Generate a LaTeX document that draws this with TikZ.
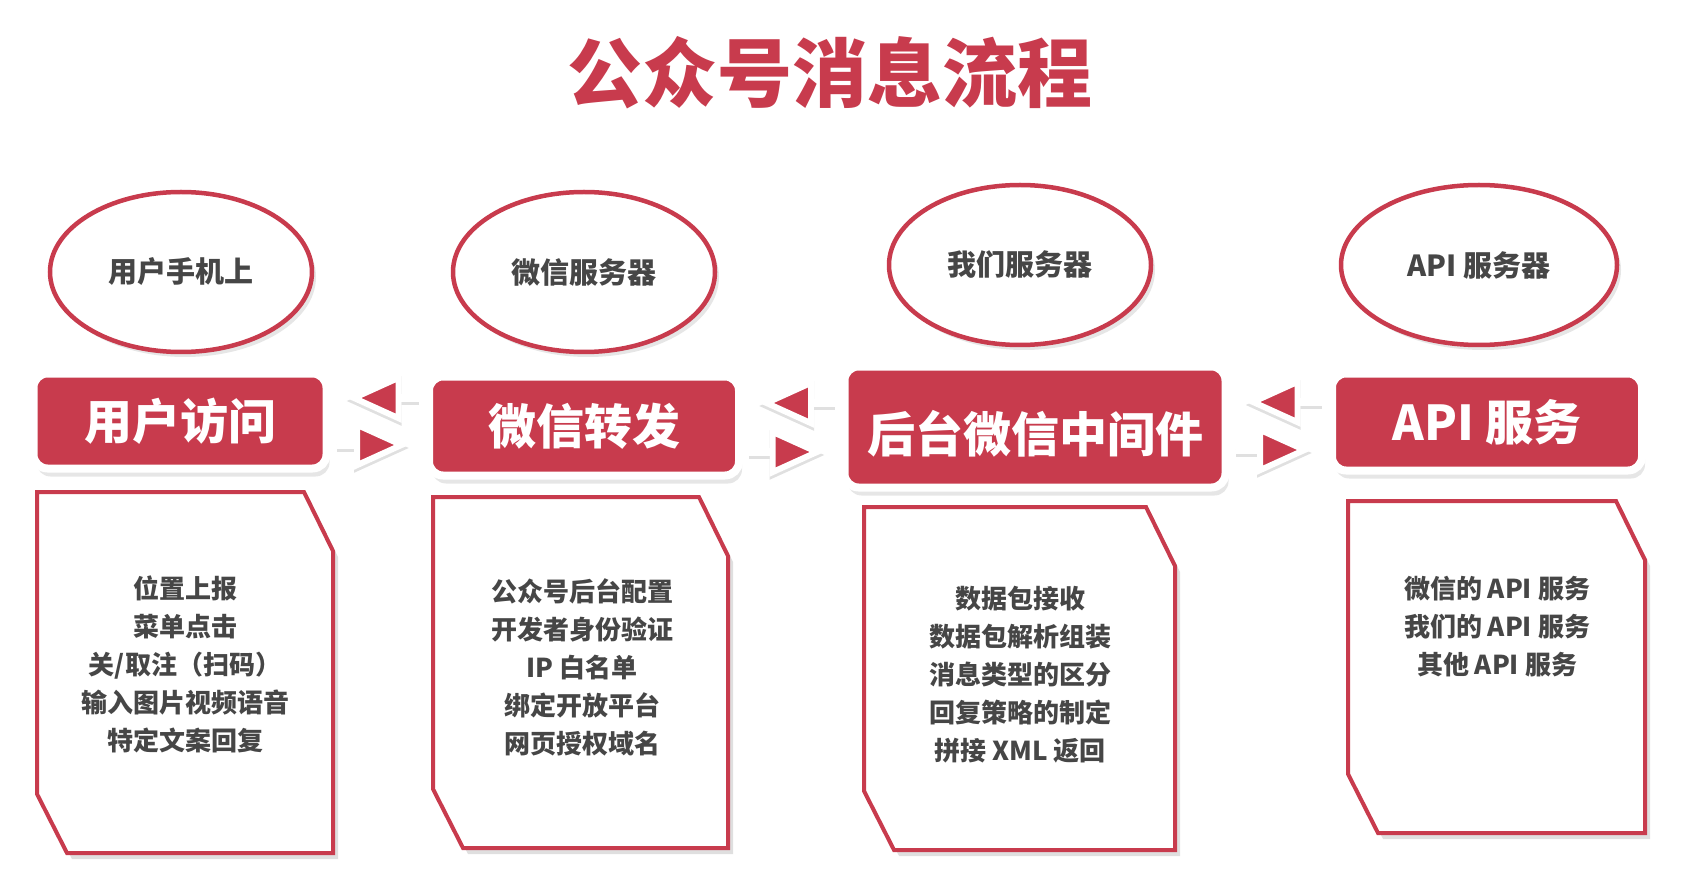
\documentclass[tikz,border=0pt]{standalone}
\usepackage{fontspec}
\setmainfont{Noto Sans CJK SC}
\usetikzlibrary{shapes.geometric,arrows.meta,shadows}
\definecolor{rouge}{RGB}{200,59,77}
\definecolor{gris}{RGB}{70,70,70}
\newcommand\card[4]{\draw[card] (#1,#2) -- ({#3-29},#2) -- (#3,{#2+59}) -- (#3,#4) -- ({#1+30},#4) -- (#1,{#4-59}) -- cycle;}
\newcommand\link[2]{\draw[linkshadow] #1 -- #2; \draw[linkline] #1 -- #2;}

\begin{document}
\begin{tikzpicture}[x=1pt,y=-1pt,
  server/.style={ellipse,draw=rouge,line width=4.5pt,fill=white,minimum width=262pt,minimum height=160pt,text=gris,font=\fontsize{29}{34}\selectfont\bfseries,drop shadow={opacity=.2,shadow xshift=4pt,shadow yshift=-5pt}},
  stage/.style={rectangle,rounded corners=14pt,fill=rouge,draw=white,line width=8pt,inner sep=0pt,text=white,font=\fontsize{48}{56}\selectfont\bfseries,drop shadow={opacity=.2,shadow xshift=3pt,shadow yshift=-8pt}},
  card/.style={draw=rouge,line width=4pt,fill=white,drop shadow={opacity=.25,shadow xshift=5pt,shadow yshift=-6pt}},
  cardtext/.style={text=gris,align=center,font=\fontsize{26}{38}\selectfont\bfseries},
  flow/.style={line width=8pt,shorten <=6pt,shorten >=16pt,-{Triangle[length=55pt,width=48pt,line width=6pt,fill=#1]}},
  flow/.default=rouge,
  linkline/.style={flow,white},
  linkshadow/.style={flow=black,black,opacity=.12,xshift=2pt,yshift=-3pt}]
\useasboundingbox (0,0) rectangle (1694,882);

\node[text=rouge,font=\fontsize{75}{80}\selectfont\bfseries] (title) at (830,73) {公众号消息流程};

\node[server] (phone) at (181,272) {用户手机上};
\node[server] (wxsrv) at (584,272) {微信服务器};
\node[server] (oursrv) at (1020,265) {我们服务器};
\node[server,minimum width=276pt] (apisrv) at (1479,265) {API 服务器};

\node[stage,minimum width=293pt,minimum height=95pt] (user) at (180,421) {用户访问};
\node[stage,minimum width=310pt,minimum height=99pt] (fwd) at (584,426) {微信转发};
\node[stage,minimum width=381pt,minimum height=121pt,text height=50pt,text depth=0pt] (mid) at (1035,427) {后台微信中间件};
\node[stage,minimum width=310pt,minimum height=97pt] (api) at (1487,422) {API 服务};

\link{(fwd.west |- 0,398)}{(user.east |- 0,398)}
\link{(user.east |- 0,445)}{(fwd.west |- 0,445)}
\link{(mid.west |- 0,403)}{(fwd.east |- 0,403)}
\link{(fwd.east |- 0,452)}{(mid.west |- 0,452)}
\link{(api.west |- 0,402)}{(mid.east |- 0,402)}
\link{(mid.east |- 0,450)}{(api.west |- 0,450)}

\card{37}{492}{333}{853}
\card{433}{497}{728}{848}
\card{864}{507}{1175}{850}
\card{1348}{501}{1645}{833}

\node[cardtext] (userlist) at (185,664) {位置上报\\菜单点击\\关/取注（扫码）\\输入图片视频语音\\特定文案回复};
\node[cardtext] (fwdlist) at (582,667) {公众号后台配置\\开发者身份验证\\IP 白名单\\绑定开放平台\\网页授权域名};
\node[cardtext] (midlist) at (1020,675) {数据包接收\\数据包解析组装\\消息类型的区分\\回复策略的制定\\拼接 XML 返回};
\node[cardtext] (apilist) at (1497,627) {微信的 API 服务\\我们的 API 服务\\其他 API 服务};
\end{tikzpicture}
\end{document}
